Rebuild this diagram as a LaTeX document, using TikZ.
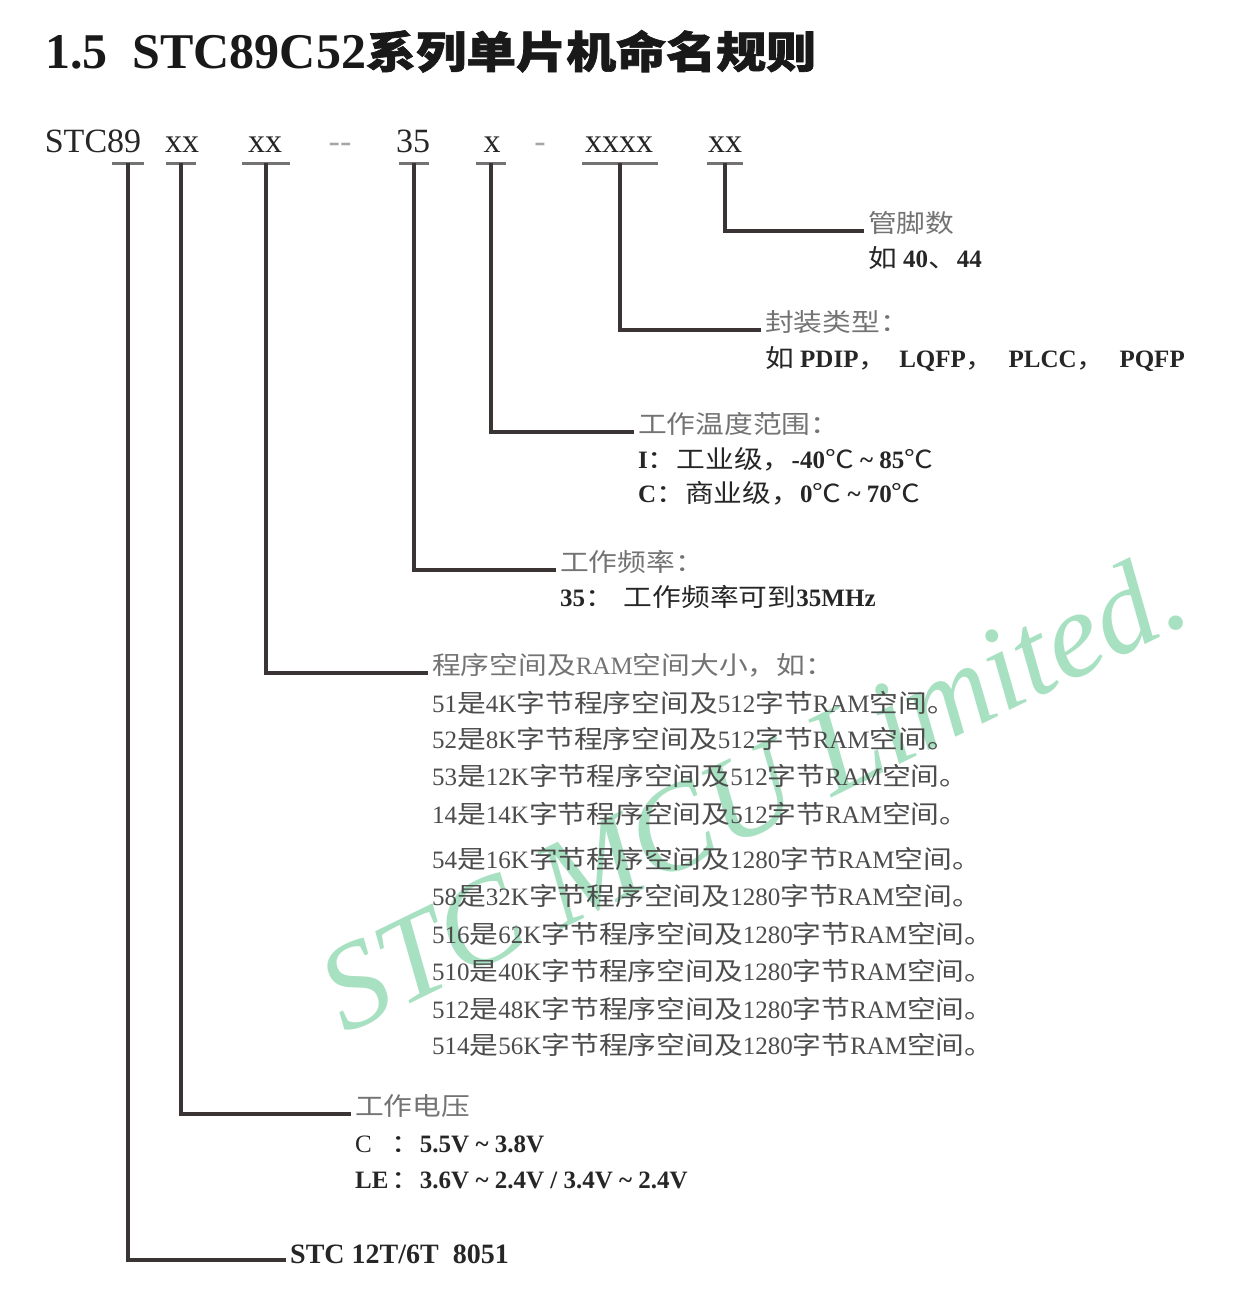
\documentclass[tikz,border=0pt]{standalone}
\usepackage{fontspec}
\setmainfont{Liberation Serif}
\newfontfamily\cjk[FakeStretch=1.15]{Noto Sans CJK SC}
\newfontfamily\cjkb[FakeStretch=1.15,FakeBold=1.5]{Noto Sans CJK SC}
\newcommand{\zh}[1]{{\mdseries\cjk #1}}
\newcommand{\rng}{\ \textasciitilde\ }
\definecolor{mint}{RGB}{168,225,194}
\definecolor{ink}{RGB}{58,52,52}
\tikzset{
  hdr/.style={anchor=base,inner sep=0pt,font=\fontsize{34}{40}\selectfont,text=black!85},
  dsh/.style={hdr,text=black!35},
  bar/.style={line width=3pt,draw=black!55},
  conn/.style={line width=3.5pt,draw=ink},
  head/.style={anchor=west,inner sep=4pt,text height=0.8em,text depth=0.45em,font=\fontsize{25}{30}\selectfont,text=black!55},
  txt/.style={anchor=west,inner sep=4pt,text height=0.8em,text depth=0.2em,font=\fontsize{25}{30}\selectfont\bfseries,text=black!85},
  mem/.style={txt,font=\fontsize{25}{30}\selectfont,text=black!70},
  wm/.style={anchor=base west,inner sep=0pt,rotate=26,font=\fontsize{122}{130}\selectfont\itshape,text=mint},
}
\begin{document}
\begin{tikzpicture}[x=1pt,y=-1pt]
 \useasboundingbox (0,0) rectangle (1236,1306);
 \fill[white] (0,0) rectangle (1236,1306);
 % watermark
 \node[wm] (wm) at (345,1035) {STC MCU Limited.};
 % title
 \node[anchor=base west,inner sep=0pt,text=black!90] (title) at (45,68)
   {\fontsize{50}{58}\selectfont\bfseries 1.5\ \ STC89C52{\fontsize{43.5}{52}\selectfont\cjkb 系列单片机命名规则}};
 % part number
 \node[hdr] (hSTC) at (93,152) {STC89};
 \node[hdr] (hV) at (182,152) {xx};
 \node[hdr] (hMem) at (265,152) {xx};
 \node[dsh] (dA) at (340,152) {-{}-};
 \node[hdr] (hFreq) at (413,152) {35};
 \node[hdr] (hTemp) at (492,152) {x};
 \node[dsh] (dB) at (540,152) {-};
 \node[hdr] (hPkg) at (619,152) {xxxx};
 \node[hdr] (hPin) at (725,152) {xx};
 % bars
 \foreach \b/\x/\w in {bSTC/128/16,bV/181/15,bMem/266/24,bFreq/414/15,bTemp/491/15,bPkg/620/38,bPin/725/18}{
   \coordinate (\b) at (\x,163);
   \draw[bar] ([xshift=-\w pt]\b) -- ([xshift=\w pt]\b);
 }
 % pins
 \node[head] (pinT) at (864,231) {\zh{管脚数}};
 \node[txt] (pin1) at (864,264) {\zh{如} 40\zh{、}44};
 % package
 \node[head] (pkgT) at (761,330) {\zh{封装类型：}};
 \node[txt] (pkg1) at (761,364) {\zh{如} PDIP\zh{，}\hspace{12pt}LQFP\zh{，}\hspace{14pt}PLCC\zh{，}\hspace{14pt}PQFP};
 % temperature
 \node[head] (tmpT) at (634,432) {\zh{工作温度范围：}};
 \node[txt] (tmp1) at (634,465) {I\zh{：工业级，}-40\zh{℃}\rng 85\zh{℃}};
 \node[txt] (tmp2) at (634,499) {C\zh{：商业级，}0\zh{℃}\rng 70\zh{℃}};
 % frequency
 \node[head] (frqT) at (556,570) {\zh{工作频率：}};
 \node[txt] (frq1) at (556,603) {35\zh{：}\hspace{10pt}\zh{工作频率可到}35MHz};
 % program / RAM size
 \node[head] (memT) at (428,673) {\zh{程序空间及}RAM\zh{空间大小，如：}};
 \foreach \n/\k/\r/\y in {51/4K/512/709,52/8K/512/745,53/12K/512/782,14/14K/512/820,
     54/16K/1280/865,58/32K/1280/902,516/62K/1280/940,510/40K/1280/977,512/48K/1280/1015,514/56K/1280/1051}
   \node[mem] (m\n) at (428,\y) {\n\zh{是}\k\zh{字节程序空间及}\r\zh{字节}RAM\zh{空间。}};
 % voltage
 \node[head] (volT) at (351,1114) {\zh{工作电压}};
 \node[txt] (vol1) at (351,1149) {\makebox[36pt][l]{\mdseries C}\zh{：}5.5V\rng 3.8V};
 \node[txt] (vol2) at (351,1185) {\makebox[36pt][l]{LE}\zh{：}3.6V\rng 2.4V / 3.4V\rng 2.4V};
 % core
 \node[txt,font=\fontsize{28}{32}\selectfont\bfseries] (core) at (286,1260) {STC 12T/6T\ \ 8051};
 % connectors
 \draw[conn] (bPin) |- (pinT);
 \draw[conn] (bPkg) |- (pkgT);
 \draw[conn] (bTemp) |- (tmpT);
 \draw[conn] (bFreq) |- (frqT);
 \draw[conn] (bMem) |- (memT);
 \draw[conn] (bV) |- (volT);
 \draw[conn] (bSTC) |- (core);
\end{tikzpicture}
\end{document}
